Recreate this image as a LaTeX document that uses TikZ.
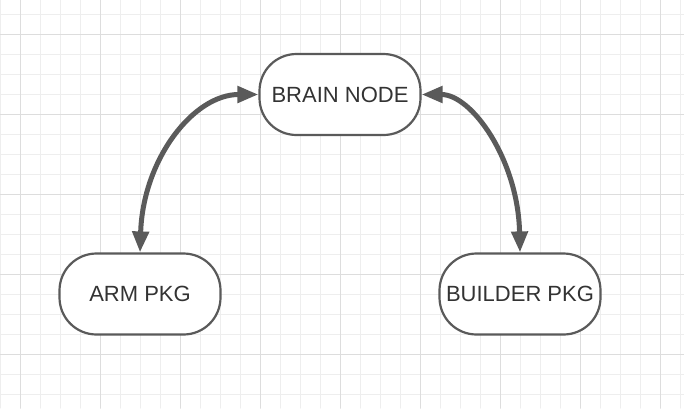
\documentclass[tikz,border=0pt]{standalone}
\usepackage{fontspec}
\setmainfont{Liberation Sans}
\usetikzlibrary{arrows.meta}
\definecolor{minorgrid}{HTML}{EEEEEE}
\definecolor{majorgrid}{HTML}{DDDDDD}
\definecolor{edgegray}{HTML}{5A5A5A}
\definecolor{textgray}{HTML}{333333}
\tikzset{
  pkgbox/.style={draw=edgegray, line width=2.2pt, fill=white, rounded corners=37pt,
    minimum width=161pt, minimum height=81pt, inner sep=0pt, text=textgray,
    font=\fontsize{22}{26}\selectfont},
  link/.style={draw=edgegray, line width=5pt,
    {Triangle[length=21pt,width=16pt]}-{Triangle[length=21pt,width=16pt]}}
}
\begin{document}
\begin{tikzpicture}[x=1pt, y=-1pt, line cap=round, line join=round]
    \useasboundingbox (0,0) rectangle (684,408);
    \fill[white] (0,0) rectangle (684,408);
    % background grid
    \foreach \x in {0,20,...,680} \draw[minorgrid, line width=1pt] (\x,0) -- (\x,408);
    \foreach \y in {14,34,...,394} \draw[minorgrid, line width=1pt] (0,\y) -- (684,\y);
    \foreach \x in {20,100,...,660} \draw[majorgrid, line width=1pt] (\x,0) -- (\x,408);
    \foreach \y in {34,114,...,354} \draw[majorgrid, line width=1pt] (0,\y) -- (684,\y);
    % nodes
    \node[pkgbox] (brain) at (340,94.5) {BRAIN NODE};
    \node[pkgbox] (arm) at (140,294) {ARM PKG};
    \node[pkgbox] (builder) at (520,294) {BUILDER PKG};
    % links
    \draw[link] (arm.north) .. controls +(3,-93) and +(-65,0) .. (brain.west);
    \draw[link] (brain.east) .. controls +(50,0) and +(-2,-93) .. (builder.north);
\end{tikzpicture}
\end{document}
